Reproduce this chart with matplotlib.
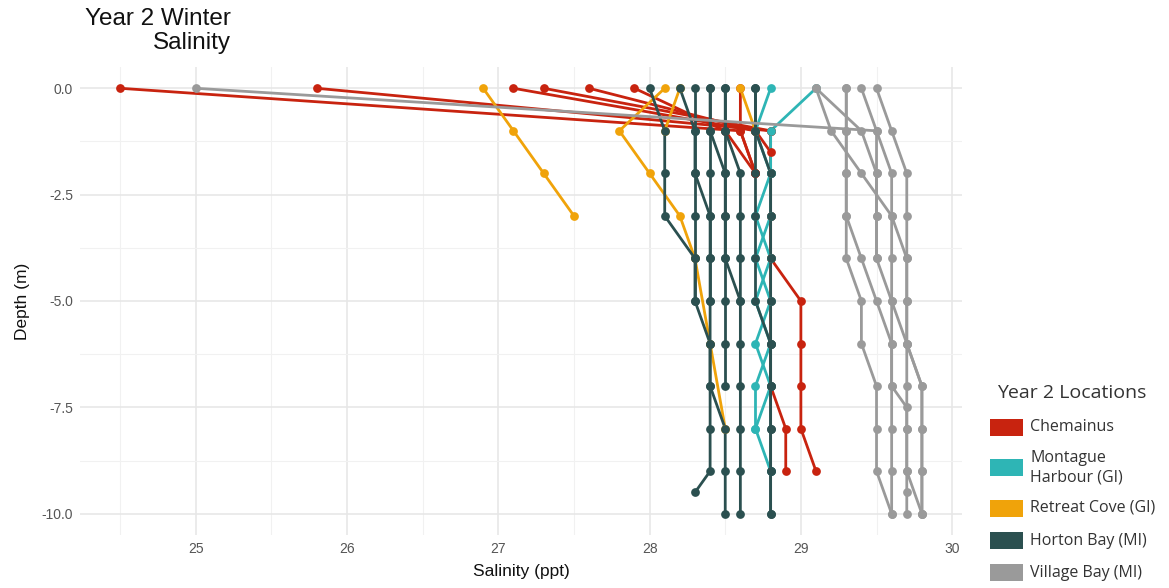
import matplotlib
matplotlib.use("Agg")
import matplotlib.pyplot as plt
from matplotlib.patches import Rectangle
from matplotlib.ticker import MultipleLocator

# ---------------- data (salinity in ppt, depth in m) ----------------
chemainus_depth = [
    [0, -1, -2],
    [0, -1, -2, -3, -4, -5, -6, -7, -8, -9],
    [0, -1, -1.5],
    [0, -1, -2, -3, -4, -5, -6, -7, -8, -9],
    [0, -1],
    [0, -1, -2],
    [0, -1, -2],
]
chemainus_sal = [
    [24.5, 28.6, 28.7],
    [25.8, 28.8, 28.8, 28.8, 28.8, 29.0, 29.0, 29.0, 29.0, 29.1],
    [27.1, 28.7, 28.8],
    [27.3, 28.8, 28.8, 28.8, 28.8, 28.8, 28.8, 28.8, 28.9, 28.9],
    [27.6, 28.7],
    [27.9, 28.5, 28.7],
    [28.6, 28.6, 28.7],
]

montague_depth = [
    [0, -1, -2, -3, -4, -5, -6, -7, -8, -9],
    [0, -1, -2, -3, -4, -5, -6, -7, -8],
]
montague_sal = [
    [28.8, 28.7, 28.8, 28.7, 28.8, 28.7, 28.8, 28.7, 28.7, 28.8],
    [29.1, 28.8, 28.8, 28.8, 28.7, 28.8, 28.7, 28.8, 28.7],
]

retreat_depth = [
    [0, -1, -2, -3],
    [0, -1, -2, -3, -4, -6, -8],
    [0, -1],
    [0, -1],
]
retreat_sal = [
    [26.9, 27.1, 27.3, 27.5],
    [28.1, 27.8, 28.0, 28.2, 28.3, 28.4, 28.5],
    [28.2, 28.1],
    [28.6, 28.7],
]

horton_depth = [
    [0, -1, -2, -3, -4, -5, -6, -7, -8, -9, -9.5],
    [0, -1, -2, -3, -4, -5, -6, -7, -8, -9, -10],
    [0, -1, -2, -3, -4, -5],
    [0, -1, -2, -3, -4, -5, -6, -7, -8, -9, -10],
    [0, -1, -2, -3, -4, -5],
    [0, -1, -2, -3, -4, -5, -6, -7],
    [0, -1, -2, -3, -4, -5],
    [0, -1, -2, -3, -4, -5, -6, -7, -8, -9, -10],
    [0, -1, -2, -3, -4, -5, -6, -7, -8, -9, -10],
]
horton_sal = [
    [28.0, 28.1, 28.1, 28.1, 28.3, 28.3, 28.4, 28.4, 28.4, 28.4, 28.3],
    [28.2, 28.3, 28.3, 28.4, 28.4, 28.4, 28.4, 28.4, 28.5, 28.5, 28.5],
    [28.3, 28.3, 28.3, 28.3, 28.3, 28.3],
    [28.4, 28.4, 28.5, 28.5, 28.5, 28.6, 28.6, 28.6, 28.6, 28.6, 28.6],
    [28.4, 28.4, 28.4, 28.4, 28.4, 28.4],
    [28.5, 28.5, 28.5, 28.5, 28.5, 28.5, 28.5, 28.5],
    [28.5, 28.5, 28.6, 28.6, 28.6, 28.6],
    [28.7, 28.7, 28.7, 28.7, 28.7, 28.7, 28.8, 28.8, 28.8, 28.8, 28.8],
    [28.7, 28.7, 28.8, 28.8, 28.8, 28.8, 28.8, 28.8, 28.8, 28.8, 28.8],
]

village_depth = [
    [0, -1, -2, -3, -4, -5, -6, -7, -8, -9, -10],
    [0, -1, -2, -3, -4, -5, -6, -7, -8, -9, -10],
    [0, -1, -2, -3, -4, -5, -6, -7, -8, -9, -10],
    [0, -1, -2, -3, -4, -5, -6, -7, -8, -9, -9.5, -10],
    [0, -1, -2, -3, -4, -5, -6, -7, -8, -9, -10],
    [0, -1, -2, -3, -4, -5, -6, -7, -7.5, -8, -9, -10],
    [0, -1, -2, -3, -4],
]
village_sal = [
    [25.0, 29.5, 29.6, 29.6, 29.6, 29.6, 29.6, 29.6, 29.6, 29.6, 29.6],
    [29.1, 29.2, 29.4, 29.6, 29.7, 29.7, 29.7, 29.8, 29.8, 29.8, 29.8],
    [29.3, 29.3, 29.3, 29.3, 29.3, 29.4, 29.4, 29.5, 29.5, 29.5, 29.6],
    [29.1, 29.4, 29.5, 29.5, 29.5, 29.6, 29.7, 29.7, 29.7, 29.7, 29.7, 29.7],
    [29.5, 29.6, 29.7, 29.7, 29.7, 29.7, 29.7, 29.8, 29.8, 29.8, 29.8],
    [29.3, 29.3, 29.3, 29.3, 29.4, 29.5, 29.6, 29.6, 29.7, 29.7, 29.7, 29.8],
    [29.4, 29.5, 29.5, 29.5, 29.5],
]

location_names = ["Chemainus", "Montague\nHarbour (GI)", "Retreat Cove (GI)",
                  "Horton Bay (MI)", "Village Bay (MI)"]
location_colors = ["#C8230F", "#2EB5B5", "#F0A30A", "#2B5050", "#9A9A9A"]

x_ticks = [25, 26, 27, 28, 29, 30]
y_ticks = [0.0, -2.5, -5.0, -7.5, -10.0]

# ---------------- figure ----------------
W, H = 1169, 588
fig = plt.figure(figsize=(W / 100, H / 100), dpi=100)
ax = fig.add_axes([80 / W, 1 - 535 / H, (962 - 80) / W, (535 - 67) / H])

groups = [
    (chemainus_depth, chemainus_sal),
    (montague_depth, montague_sal),
    (retreat_depth, retreat_sal),
    (horton_depth, horton_sal),
    (village_depth, village_sal),
]

for (depths, sals), col in zip(groups, location_colors):
    for d, s in zip(depths, sals):
        ax.plot(s, d, color=col, lw=2.0, zorder=2, solid_capstyle="round")
for (depths, sals), col in zip(groups, location_colors):
    for d, s in zip(depths, sals):
        ax.plot(s, d, linestyle="none", marker="o", ms=6.3, color=col,
                markeredgewidth=0, zorder=3)

ax.set_xlim(24.235, 30.065)
ax.set_ylim(-10.5, 0.5)
ax.set_xticks(x_ticks)
ax.set_yticks(y_ticks)
ax.set_yticklabels([f"{v:.1f}" for v in y_ticks])
ax.xaxis.set_minor_locator(MultipleLocator(0.5))
ax.yaxis.set_minor_locator(MultipleLocator(1.25))
ax.grid(which="major", color="#E6E6E6", lw=1.1, zorder=0)
ax.grid(which="minor", color="#F1F1F1", lw=0.8, zorder=0)
ax.set_axisbelow(True)
for sp in ax.spines.values():
    sp.set_visible(False)
ax.tick_params(which="both", length=0, labelsize=10, labelcolor="#555555", pad=5)
for lab in ax.get_xticklabels() + ax.get_yticklabels():
    lab.set_family("Liberation Sans")

ax.set_xlabel("Salinity (ppt)", fontsize=12.5, family="Liberation Sans", color="#111111", labelpad=6)
ax.set_ylabel("Depth (m)", fontsize=12.5, family="Liberation Sans", color="#111111", labelpad=8)

fig.text(231 / W, 1 - 8 / H, "Year 2 Winter\nSalinity", ha="right", va="top",
         multialignment="right", fontsize=17.5, family="Liberation Sans",
         color="#111111", linespacing=1.12)

# ---------------- legend ----------------
fig.text(997 / W, 1 - 393 / H, "Year 2 Locations", ha="left", va="center",
         fontsize=14, family="Open Sans", color="#333333")
swatch_y = [419, 459, 500, 532, 564]
label_y = [427, 468, 508, 541, 573]
for name, col, sy, ly in zip(location_names, location_colors, swatch_y, label_y):
    fig.add_artist(Rectangle((990 / W, 1 - (sy + 16.5) / H), 33 / W, 16.5 / H,
                             transform=fig.transFigure, color=col, lw=0))
    fig.text(1030 / W, 1 - ly / H, name, ha="left", va="center", fontsize=11.5,
             family="Open Sans", color="#333333", linespacing=1.25)

fig.savefig("out.png", dpi=100)
